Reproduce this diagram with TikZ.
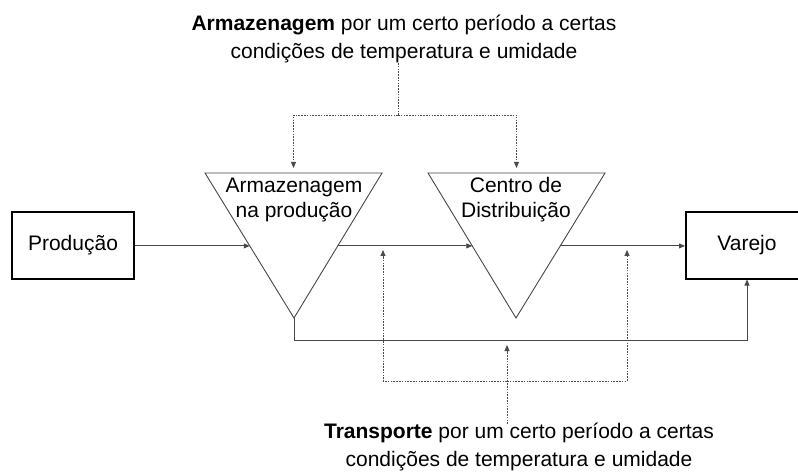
\documentclass[tikz,border=0pt]{standalone}
\usepackage{fontspec}
\setmainfont{Liberation Sans}
\usetikzlibrary{arrows.meta,calc}
\begin{document}
\begin{tikzpicture}[x=1pt,y=-1pt,
  flow/.style={draw=black!72, line width=0.9pt},
  arr/.style={-{Triangle[length=6pt,width=5pt]}},
  dots/.style={draw=black!70, line width=0.9pt, dash pattern=on 1.6pt off 1.2pt},
  boxnode/.style={draw=black, line width=2pt, minimum width=122pt, minimum height=66pt, inner sep=0pt, font=\fontsize{21}{25}\selectfont},
  tri/.style={draw=black!72, line width=0.9pt},
  lbl/.style={font=\fontsize{21}{25}\selectfont, align=center, inner sep=0pt, anchor=base},
  ann/.style={font=\fontsize{21}{28}\selectfont, align=center, inner sep=0pt, anchor=base}]
\useasboundingbox (0,0) rectangle (798,473);
% boxes
\node[boxnode] (prod) at (73,245.5) {Produção};
\node[boxnode] (var) at (747,245.5) {Varejo};
% triangles
\coordinate (t1l) at (205,173);
\coordinate (t1r) at (382,173);
\coordinate (t1b) at (294,318);
\coordinate (t2l) at (428,173);
\coordinate (t2r) at (605,173);
\coordinate (t2b) at (516,318);
\draw[tri] (t1l) -- (t1r) -- (t1b) -- cycle;
\draw[tri] (t2l) -- (t2r) -- (t2b) -- cycle;
\node[lbl] (t1txt) at (294,218) {Armazenagem\\na produção};
\node[lbl] (t2txt) at (516,218) {Centro de\\Distribuição};
% main flow
\coordinate (t1in) at ($(t1l)!0.503!(t1b)$);
\coordinate (t1out) at ($(t1r)!0.503!(t1b)$);
\coordinate (t2in) at ($(t2l)!0.503!(t2b)$);
\coordinate (t2out) at ($(t2r)!0.503!(t2b)$);
\draw[flow,arr] (prod.east |- t1in) -- (t1in);
\draw[flow,arr] (t1out) -- (t2in);
\draw[flow,arr] (t2out) -- (var.west |- t2out);
\coordinate (bl) at (294,340);
\draw[flow,arr] (t1b) -- (bl) -| (var.south);
% top annotation
\node[ann] (topann) at (404,59) {\textbf{Armazenagem} por um certo período a certas\\condições de temperatura e umidade};
\coordinate (tf) at (398,63);
\coordinate (tj) at (398,115);
\draw[dots] (tf) -- (tj);
\draw[dots,arr] (tj) -| ($(t1l)!0.5!(t1r)+(0,-5)$);
\draw[dots,arr] (tj) -| ($(t2l)!0.5!(t2r)+(0,-5)$);
% bottom annotation
\node[ann] (botann) at (519,466) {\textbf{Transporte} por um certo período a certas\\condições de temperatura e umidade};
\coordinate (bf) at (507,424);
\coordinate (bj) at (507,381);
\draw[dots,arr] (bf) -- (507,345);
\draw[dots,arr] (bj) -| (383,250);
\draw[dots,arr] (bj) -| (627,250);
\end{tikzpicture}
\end{document}
